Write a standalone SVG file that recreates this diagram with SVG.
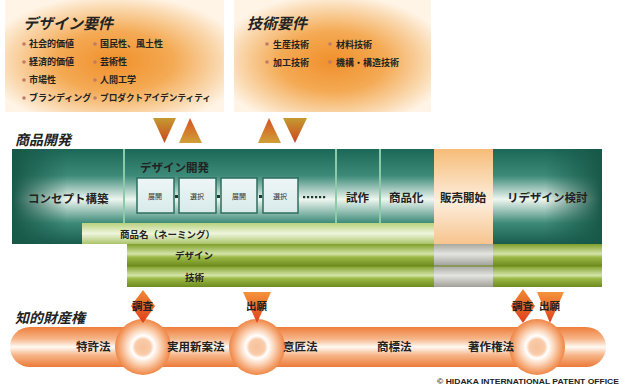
<svg xmlns="http://www.w3.org/2000/svg" width="622" height="386" viewBox="0 0 622 386">
<defs>
<radialGradient id="reqG" cx="0.5" cy="0.55" r="0.6">
<stop offset="0" stop-color="#f0902c"/>
<stop offset="0.45" stop-color="#f4aa54"/>
<stop offset="0.8" stop-color="#fad8ae"/>
<stop offset="1" stop-color="#fff4e6"/>
</radialGradient>
<linearGradient id="tealV" x1="0" y1="0" x2="0" y2="1">
<stop offset="0" stop-color="#1c6858"/>
<stop offset="0.28" stop-color="#3d8a78"/>
<stop offset="0.53" stop-color="#eef6f0"/>
<stop offset="0.78" stop-color="#3d8a78"/>
<stop offset="1" stop-color="#195c4e"/>
</linearGradient>
<linearGradient id="darkL" x1="0" y1="0" x2="1" y2="0">
<stop offset="0" stop-color="#175848" stop-opacity="1"/>
<stop offset="1" stop-color="#175848" stop-opacity="0"/>
</linearGradient>
<linearGradient id="darkR" x1="1" y1="0" x2="0" y2="0">
<stop offset="0" stop-color="#175848" stop-opacity="1"/>
<stop offset="1" stop-color="#175848" stop-opacity="0"/>
</linearGradient>
<linearGradient id="saleG" x1="0" y1="0" x2="0" y2="1">
<stop offset="0" stop-color="#f6bc78"/>
<stop offset="0.55" stop-color="#fdeedd"/>
<stop offset="1" stop-color="#f7c48e"/>
</linearGradient>
<linearGradient id="nameG" x1="0" y1="0" x2="0" y2="1">
<stop offset="0" stop-color="#b8d27c"/>
<stop offset="0.5" stop-color="#eef5dc"/>
<stop offset="1" stop-color="#aac46a"/>
</linearGradient>
<linearGradient id="barG" x1="0" y1="0" x2="0" y2="1">
<stop offset="0" stop-color="#7e9e28"/>
<stop offset="0.45" stop-color="#d4e4a8"/>
<stop offset="0.6" stop-color="#9cb846"/>
<stop offset="1" stop-color="#6c8c1e"/>
</linearGradient>
<linearGradient id="greyG" x1="0" y1="0" x2="0" y2="1">
<stop offset="0" stop-color="#a8a8a0"/>
<stop offset="0.45" stop-color="#e4e4e0"/>
<stop offset="1" stop-color="#a0a098"/>
</linearGradient>
<linearGradient id="boxG" x1="0" y1="0" x2="0" y2="1">
<stop offset="0" stop-color="#eef6f6"/>
<stop offset="1" stop-color="#d8eaea"/>
</linearGradient>
<linearGradient id="triDown" x1="0" y1="0" x2="0" y2="1">
<stop offset="0" stop-color="#c49a30"/>
<stop offset="1" stop-color="#cc4620"/>
</linearGradient>
<linearGradient id="triUp" x1="0" y1="0" x2="0" y2="1">
<stop offset="0" stop-color="#d65020"/>
<stop offset="1" stop-color="#d0a038"/>
</linearGradient>
<linearGradient id="pipeG" x1="0" y1="0" x2="0" y2="1">
<stop offset="0" stop-color="#ee7e3c"/>
<stop offset="0.3" stop-color="#f6b68a"/>
<stop offset="0.5" stop-color="#fffaf4"/>
<stop offset="0.7" stop-color="#f6b68a"/>
<stop offset="1" stop-color="#ec7a38"/>
</linearGradient>
<radialGradient id="bulgeG" cx="0.5" cy="0.5" r="0.5">
<stop offset="0" stop-color="#f7c09a"/>
<stop offset="0.28" stop-color="#f9ccaa"/>
<stop offset="0.4" stop-color="#ffffff"/>
<stop offset="0.58" stop-color="#fcdcc4"/>
<stop offset="0.85" stop-color="#f4a470"/>
<stop offset="1" stop-color="#ef8646"/>
</radialGradient>
<linearGradient id="diaG" x1="0" y1="0" x2="0" y2="1">
<stop offset="0" stop-color="#f08a34"/>
<stop offset="1" stop-color="#e03e1c"/>
</linearGradient>
<linearGradient id="appG" x1="0" y1="0" x2="0" y2="1">
<stop offset="0" stop-color="#f4943c"/>
<stop offset="1" stop-color="#e0401c"/>
</linearGradient>
</defs>
<style>
text{font-family:"Noto Sans CJK JP","Liberation Sans",sans-serif;font-weight:bold;fill:#222}
.title{font-size:15px;font-style:italic}
.sec{font-size:14px;font-style:italic}
.item{font-size:9px}
.lbl{font-size:11.5px}
.small{font-size:7px;font-weight:normal;fill:#333}
.bar{font-size:9.5px}
.law{font-size:11.5px}
.mk{font-size:10.5px}
.bul{fill:#c07a66}
.sep{stroke:#8ccaa8;stroke-width:2}
.sbox{fill:url(#boxG);stroke:#2c6e5e;stroke-width:1.5}
.dot{fill:#1c3a32}
</style>

<g id="req-design">
<rect x="5" y="0" width="219" height="112" fill="url(#reqG)"/>
<text class="title" x="23" y="29">デザイン要件</text>
<circle class="bul" cx="24" cy="44" r="1.8"/><text class="item" x="29" y="47">社会的価値</text>
<circle class="bul" cx="24" cy="62" r="1.8"/><text class="item" x="29" y="65">経済的価値</text>
<circle class="bul" cx="24" cy="80" r="1.8"/><text class="item" x="29" y="83">市場性</text>
<circle class="bul" cx="24" cy="98" r="1.8"/><text class="item" x="29" y="101">ブランディング</text>
<circle class="bul" cx="95" cy="44" r="1.8"/><text class="item" x="100" y="47">国民性、風土性</text>
<circle class="bul" cx="95" cy="62" r="1.8"/><text class="item" x="100" y="65">芸術性</text>
<circle class="bul" cx="95" cy="80" r="1.8"/><text class="item" x="100" y="83">人間工学</text>
<circle class="bul" cx="95" cy="98" r="1.8"/><text class="item" x="100" y="101" textLength="111" lengthAdjust="spacingAndGlyphs">プロダクトアイデンティティ</text>
</g>

<g id="req-tech">
<rect x="234" y="0" width="197" height="112" fill="url(#reqG)"/>
<text class="title" x="247" y="29">技術要件</text>
<circle class="bul" cx="267" cy="44" r="1.8"/><text class="item" x="273" y="48">生産技術</text>
<circle class="bul" cx="267" cy="62" r="1.8"/><text class="item" x="273" y="66">加工技術</text>
<circle class="bul" cx="330" cy="44" r="1.8"/><text class="item" x="336" y="48">材料技術</text>
<circle class="bul" cx="330" cy="62" r="1.8"/><text class="item" x="336" y="66">機構・構造技術</text>
</g>

<text class="sec" x="15" y="145">商品開発</text>

<g id="product-dev">
<rect x="12" y="149" width="590" height="95" fill="url(#tealV)"/>
<rect x="12" y="149" width="55" height="95" fill="url(#darkL)"/>
<rect x="545" y="149" width="57" height="95" fill="url(#darkR)"/>
<line class="sep" x1="124" y1="149" x2="124" y2="223"/>
<line class="sep" x1="336" y1="149" x2="336" y2="223"/>
<line class="sep" x1="380" y1="149" x2="380" y2="223"/>
</g>

<g id="concept">
<text class="lbl" x="28" y="203">コンセプト構築</text>
</g>

<g id="design-dev">
<text class="lbl" x="140" y="172">デザイン開発</text>
<rect class="sbox" x="137" y="178" width="37" height="35"/>
<rect class="sbox" x="179" y="178" width="37" height="35"/>
<rect class="sbox" x="221" y="178" width="36" height="35"/>
<rect class="sbox" x="263" y="178" width="35" height="35"/>
<text class="small" x="148" y="199">展開</text>
<text class="small" x="190" y="199">選択</text>
<text class="small" x="232" y="199">展開</text>
<text class="small" x="273" y="199">選択</text>
<rect class="dot" x="175" y="195" width="3" height="3"/>
<rect class="dot" x="217" y="195" width="3" height="3"/>
<rect class="dot" x="259" y="195" width="3" height="3"/>
<g class="dot">
<rect x="303" y="196" width="2.2" height="2.2"/><rect x="307" y="196" width="2.2" height="2.2"/>
<rect x="311" y="196" width="2.2" height="2.2"/><rect x="315" y="196" width="2.2" height="2.2"/>
<rect x="319" y="196" width="2.2" height="2.2"/><rect x="323" y="196" width="2.2" height="2.2"/>
</g>
</g>

<g id="prototype"><text class="lbl" x="346" y="202">試作</text></g>
<g id="commercialize"><text class="lbl" x="389" y="202">商品化</text></g>

<g id="sales">
<rect x="434" y="149" width="59" height="95" fill="url(#saleG)"/>
<text class="lbl" x="440" y="202">販売開始</text>
</g>

<g id="redesign"><text class="lbl" x="507" y="202">リデザイン検討</text></g>

<g id="bar-naming">
<rect x="82" y="223" width="352" height="21" fill="url(#nameG)"/>
<text class="bar" x="120" y="238">商品名（ネーミング）</text>
</g>

<g id="bar-design">
<rect x="127" y="244" width="475" height="22" fill="url(#barG)"/>
<rect x="434" y="244" width="59" height="22" fill="url(#greyG)"/>
<text class="bar" x="175" y="259">デザイン</text>
</g>

<g id="bar-tech">
<rect x="127" y="266" width="475" height="21" fill="url(#barG)"/>
<rect x="434" y="266" width="59" height="21" fill="url(#greyG)"/>
<line x1="127" y1="266" x2="602" y2="266" stroke="#6a8a1c" stroke-width="1"/>
<text class="bar" x="185" y="281">技術</text>
</g>

<text class="sec" x="15" y="323">知的財産権</text>

<g id="ip-pipe">
<rect x="10" y="327" width="596" height="40" rx="20" ry="20" fill="url(#pipeG)"/>
<circle cx="143" cy="347" r="28" fill="url(#bulgeG)"/>
<circle cx="257" cy="347" r="28" fill="url(#bulgeG)"/>
<circle cx="537" cy="347" r="28" fill="url(#bulgeG)"/>
</g>
<g id="law-patent"><text class="law" x="76" y="351">特許法</text></g>
<g id="law-utility"><text class="law" x="167" y="351">実用新案法</text></g>
<g id="law-design"><text class="law" x="283" y="351">意匠法</text></g>
<g id="law-trademark"><text class="law" x="377" y="351">商標法</text></g>
<g id="law-copyright"><text class="law" x="468" y="351">著作権法</text></g>

<g id="connectors">
<polygon points="153,118 176,118 164.5,143" fill="url(#triDown)"/>
<polygon points="190,118 202,143 179,143" fill="url(#triUp)"/>
<polygon points="269,118 281,143 258,143" fill="url(#triUp)"/>
<polygon points="283,118 307,118 295,143" fill="url(#triDown)"/>
<polygon points="143,290 155,306 143,323 131,306" fill="url(#diaG)"/>
<polygon points="243,292 271,292 257,323" fill="url(#appG)"/>
<polygon points="523,289 535,306 523,323 511,306" fill="url(#diaG)"/>
<polygon points="537,292 564,292 550,323" fill="url(#appG)"/>
<text class="mk" x="132" y="310">調査</text>
<text class="mk" x="246" y="310">出願</text>
<text class="mk" x="512" y="310">調査</text>
<text class="mk" x="539" y="310">出願</text>
</g>

<text x="437" y="384" textLength="182" lengthAdjust="spacingAndGlyphs" style="font-family:'Liberation Sans',sans-serif;font-size:8px;font-weight:bold;fill:#222">© HIDAKA INTERNATIONAL PATENT OFFICE</text>
</svg>
